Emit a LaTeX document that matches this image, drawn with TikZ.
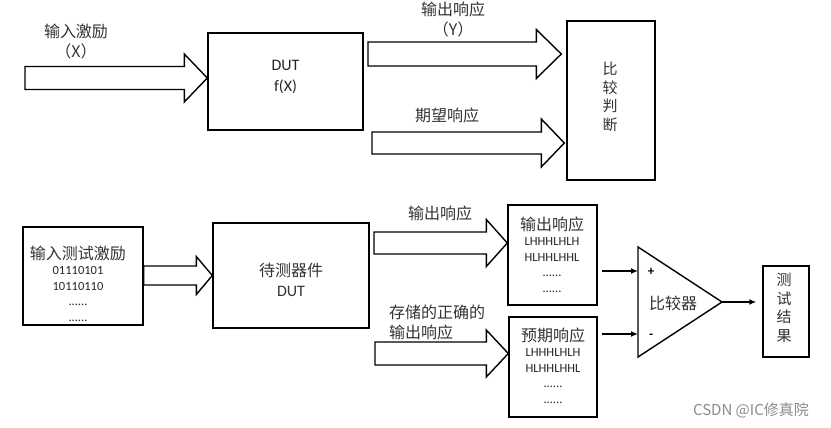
\documentclass[tikz,border=0pt]{standalone}
\usepackage{fontspec}
\setmainfont{Carlito}
\newfontfamily\cjk{Noto Sans CJK SC}
\usetikzlibrary{calc}
\usetikzlibrary{arrows.meta}

% wide hollow arrow: start, tip, half shaft, half head, head length
\newcommand{\fatarrow}[5]{%
  \draw[fat] let \p1=#1, \p2=#2 in
    (\x1,\y2+#3) -- (\x2-#5,\y2+#3) -- (\x2-#5,\y2+#4) -- (\x2,\y2)
    -- (\x2-#5,\y2-#4) -- (\x2-#5,\y2-#3) -- (\x1,\y2-#3) -- cycle;
}

\begin{document}
\begin{tikzpicture}[
    x=1pt, y=-1pt, % pixel-like units, y grows downwards
    box/.style={draw, line width=1.4pt, fill=white, inner sep=0pt, line join=miter}, % plain rectangle
    fat/.style={draw, line width=1.4pt, fill=white, line join=miter}, % outline of the wide arrows
    wire/.style={draw, line width=1.4pt, -{Latex[length=7pt,width=6pt]}}, % thin signal arrow
    cn/.style={font=\cjk\fontsize{16}{20}\selectfont, text=black!80, align=center, inner sep=0pt}, % chinese text
    en/.style={font=\fontsize{16}{21}\selectfont, text=black!85, align=center, inner sep=0pt}, % latin text
    bits/.style={font=\fontsize{12.5}{15.5}\selectfont, text=black!85, align=center, inner sep=0pt}, % 0/1 and L/H rows
    vtext/.style={font=\cjk\fontsize{15}{18.5}\selectfont, text=black!80, align=center, inner sep=0pt}, % one character per line
    sign/.style={font=\bfseries\fontsize{13}{13}\selectfont, inner sep=0pt} % + and - of the comparator
]
\path[use as bounding box, fill=white] (0,0) rectangle (831,428);

% ---- upper diagram
\node[box, minimum width=155pt, minimum height=97pt] (dut1) at (285.5,81.5) {};
\node[en] (dut1t) at (285.5,77) {DUT\\f(X)};
\node[box, minimum width=88pt, minimum height=159pt] (cmp) at (611,100.5) {};
\node[vtext] (cmpt) at (610,97) {比\\较\\判\\断};

\node[cn] (lblX) at (76,42) {输入激励\\（X）};
\node[cn] (lblY) at (453,19) {输出响应\\（Y）};
\node[cn] (lblE) at (447,115) {期望响应};

\coordinate (inX) at (25,78);
\coordinate (outY) at (368,54);
\coordinate (expY) at (372,143);
\fatarrow{(inX)}{(dut1.west |- inX)}{11.5pt}{24pt}{23pt}
\fatarrow{(outY)}{($(cmp.west |- outY)+(-5,0)$)}{12pt}{24.5pt}{25pt}
\fatarrow{(expY)}{($(cmp.west |- expY)+(-2,0)$)}{11pt}{24pt}{23pt}

% ---- lower diagram
\node[box, minimum width=120pt, minimum height=98pt] (in2) at (83,276) {};
\node[cn] (in2t) at (78,253) {输入测试激励};
\node[bits] (in2b) at (78,294) {01110101\\10110110\\......\\......};
\node[box, minimum width=156pt, minimum height=105pt] (dut2) at (291,275.5) {};
\node[cn] (dut2t) at (291,280) {待测器件\\{\normalfont DUT}};

\node[box, minimum width=89pt, minimum height=100pt] (obox) at (552.5,255) {};
\node[cn] (oboxt) at (552,224) {输出响应};
\node[bits] (oboxb) at (552,265) {LHHHLHLH\\HLHHLHHL\\......\\......};
\node[box, minimum width=88pt, minimum height=100pt] (ebox) at (553,367) {};
\node[cn] (eboxt) at (553,335) {预期响应};
\node[bits] (eboxb) at (553,376) {LHHHLHLH\\HLHHLHHL\\......\\......};

\node[cn] (lblO) at (440,213) {输出响应};
\node[cn, align=left, anchor=west] (lblS) at (389,322.5) {存储的正确的\\输出响应};

\coordinate (out2) at (374,243);
\coordinate (sto) at (375,353.5);
\fatarrow{(in2.east)}{(dut2.west)}{9.5pt}{19pt}{16pt}
\fatarrow{(out2)}{(obox.west |- out2)}{11pt}{23.5pt}{21pt}
\fatarrow{(sto)}{(ebox.west |- sto)}{11.5pt}{23.5pt}{22pt}

% comparator
\draw[box] (638,247) coordinate (cpA) -- (722,302) coordinate (cpO) -- (638,357) coordinate (cpB) -- cycle;
\node[cn] (cpt) at (673,303) {比较器};
\node[sign] (plus) at (651,272) {+};
\node[sign] (minus) at (651,336) {-};
\coordinate (pin) at (638,271);
\coordinate (nin) at (638,334);
\draw[wire] ($(obox.east |- pin)+(4,0)$) -- (pin);
\draw[wire] ($(ebox.east |- nin)+(4,0)$) -- (nin);

\node[box, minimum width=46pt, minimum height=91pt] (res) at (786,311.5) {};
\node[vtext] (rest) at (784,308) {测\\试\\结\\果};
\draw[wire, shorten >=6pt] (cpO) -- (res.west |- cpO);

\node[font=\cjk\fontsize{15}{15}\selectfont, text=black!45, inner sep=0pt] (mark) at (751,410) {CSDN @IC修真院};
\end{tikzpicture}
\end{document}
